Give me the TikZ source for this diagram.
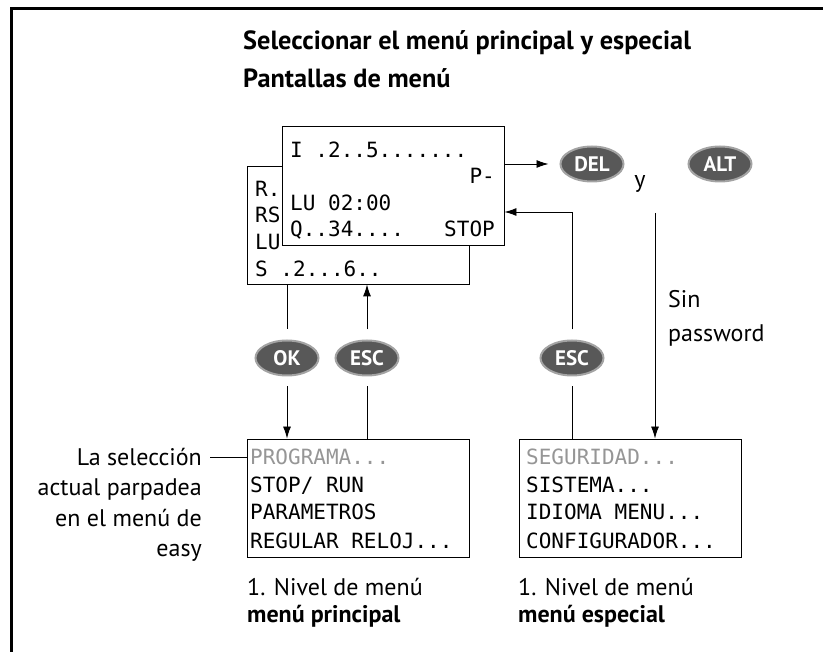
\documentclass[tikz,border=0pt]{standalone}
\usepackage{fontspec}
\setmainfont{PT Sans}
\newfontfamily\lcdfont{DejaVu Sans Mono}
\usetikzlibrary{arrows.meta, shapes.geometric, positioning}

\definecolor{keygray}{RGB}{88,88,88}
\definecolor{blinkgray}{RGB}{150,150,150}

\tikzset{
	screen/.style = {draw, fill=white, line width=0.9pt, minimum width=222pt, minimum height=118pt, inner sep=0pt},
	lcd/.style = {font=\lcdfont\fontsize{21}{21}\selectfont, inner sep=0pt},
	key/.style = {ellipse, fill=keygray, draw=keygray!55, line width=2pt, text=white, minimum width=63pt, minimum height=35pt, inner sep=0pt, font=\fontsize{21}{21}\selectfont\bfseries},
	txt/.style = {font=\fontsize{24}{24}\selectfont, inner sep=0pt},
	bigtxt/.style = {font=\fontsize{26.3}{26.3}\selectfont\bfseries, inner sep=0pt},
	conn/.style = {line width=0.9pt},
	arr/.style = {conn, -{Latex[length=12pt, width=8pt]}}
}

\begin{document}
\begin{tikzpicture}[x=1pt, y=-1pt]
	\useasboundingbox (0,0) rectangle (823,652);
	\draw[line width=3pt] (11.5,652) -- (11.5,9) -- (823,9);

	\node[bigtxt, anchor=base west] (title) at (243,50) {Seleccionar el menú principal y especial};
	\node[bigtxt, anchor=base west] (subtitle) at (243,88) {Pantallas de menú};

	% status screens
	\node[screen] (back) at (358,225) {};
	\node[lcd, anchor=base west] (b1) at (255,197) {R.};
	\node[lcd, anchor=base west] (b2) at (255,223) {RS};
	\node[lcd, anchor=base west] (b3) at (255,250) {LU};
	\node[lcd, anchor=base west] (b4) at (255,277) {S .2...6..};
	\node[screen, minimum height=119pt] (front) at (393,185.5) {};
	\node[lcd, anchor=base west] (f1) at (290,158) {I .2..5.......};
	\node[lcd, anchor=base east] (f2) at (495,184) {P-};
	\node[lcd, anchor=base west] (f3) at (290,211) {LU 02:00};
	\node[lcd, anchor=base west] (f4) at (290,237) {Q..34....};
	\node[lcd, anchor=base east] (f5) at (495,237) {STOP};

	% keys
	\node[key] (del) at (592,164) {DEL};
	\node[key] (alt) at (720,164) {ALT};
	\node[txt, anchor=base] (y) at (640,188) {y};
	\node[key] (ok) at (287,358) {OK};
	\node[key] (esc1) at (367,358) {ESC};
	\node[key] (esc2) at (572,358) {ESC};
	\node[txt, anchor=base west] (sin) at (668,308) {Sin};
	\node[txt, anchor=base west] (pw) at (668,342) {password};
	\coordinate (pwtop) at (655,213);

	% menu screens
	\node[screen] (mainmenu) at (358,498) {};
	\node[screen] (specmenu) at (630,498) {};
	\node[lcd, anchor=base west, text=blinkgray] (m1) at (250,465) {PROGRAMA...};
	\node[lcd, anchor=base west] (m2) at (250,493) {STOP/ RUN};
	\node[lcd, anchor=base west] (m3) at (250,520) {PARAMETROS};
	\node[lcd, anchor=base west] (m4) at (250,548) {REGULAR RELOJ...};
	\node[lcd, anchor=base west, text=blinkgray] (s1) at (526,465) {SEGURIDAD...};
	\node[lcd, anchor=base west] (s2) at (526,493) {SISTEMA...};
	\node[lcd, anchor=base west] (s3) at (526,520) {IDIOMA MENU...};
	\node[lcd, anchor=base west] (s4) at (526,548) {CONFIGURADOR...};

	% captions
	\node[txt, anchor=base west] (lvl1) at (247,595) {1. Nivel de menú};
	\node[txt, anchor=base west, font=\fontsize{24}{24}\selectfont\bfseries] (mainname) at (247,623) {menú principal};
	\node[txt, anchor=base west] (lvl2) at (518,595) {1. Nivel de menú};
	\node[txt, anchor=base west, font=\fontsize{24}{24}\selectfont\bfseries] (specname) at (518,623) {menú especial};
	\foreach \txt [count=\i] in {La selección, actual parpadea, en el menú de, easy}
		\node[txt, anchor=base east] (note\i) at (202,436+30*\i) {\txt};

	% connectors
	\draw[conn] ([xshift=8pt]note1.east) -- (note1.east -| mainmenu.west);
	\draw[conn, shorten >=10pt] (back.south -| ok) -- (ok.north);
	\draw[arr, shorten <=10pt] (ok.south) -- (ok.south |- mainmenu.north);
	\draw[conn, shorten >=10pt] (mainmenu.north -| esc1) -- (esc1.south);
	\draw[arr, shorten <=10pt] (esc1.north) -- (esc1.north |- back.south);
	\draw[conn, shorten >=10pt] (specmenu.north -| esc2) -- (esc2.south);
	\draw[arr, shorten <=10pt] (esc2.north) |- ([yshift=-26.5pt]front.east);
	\draw[arr, shorten >=11pt] ([yshift=21.5pt]front.east) -- (del);
	\draw[arr] (pwtop) -- (pwtop |- specmenu.north);
\end{tikzpicture}
\end{document}
